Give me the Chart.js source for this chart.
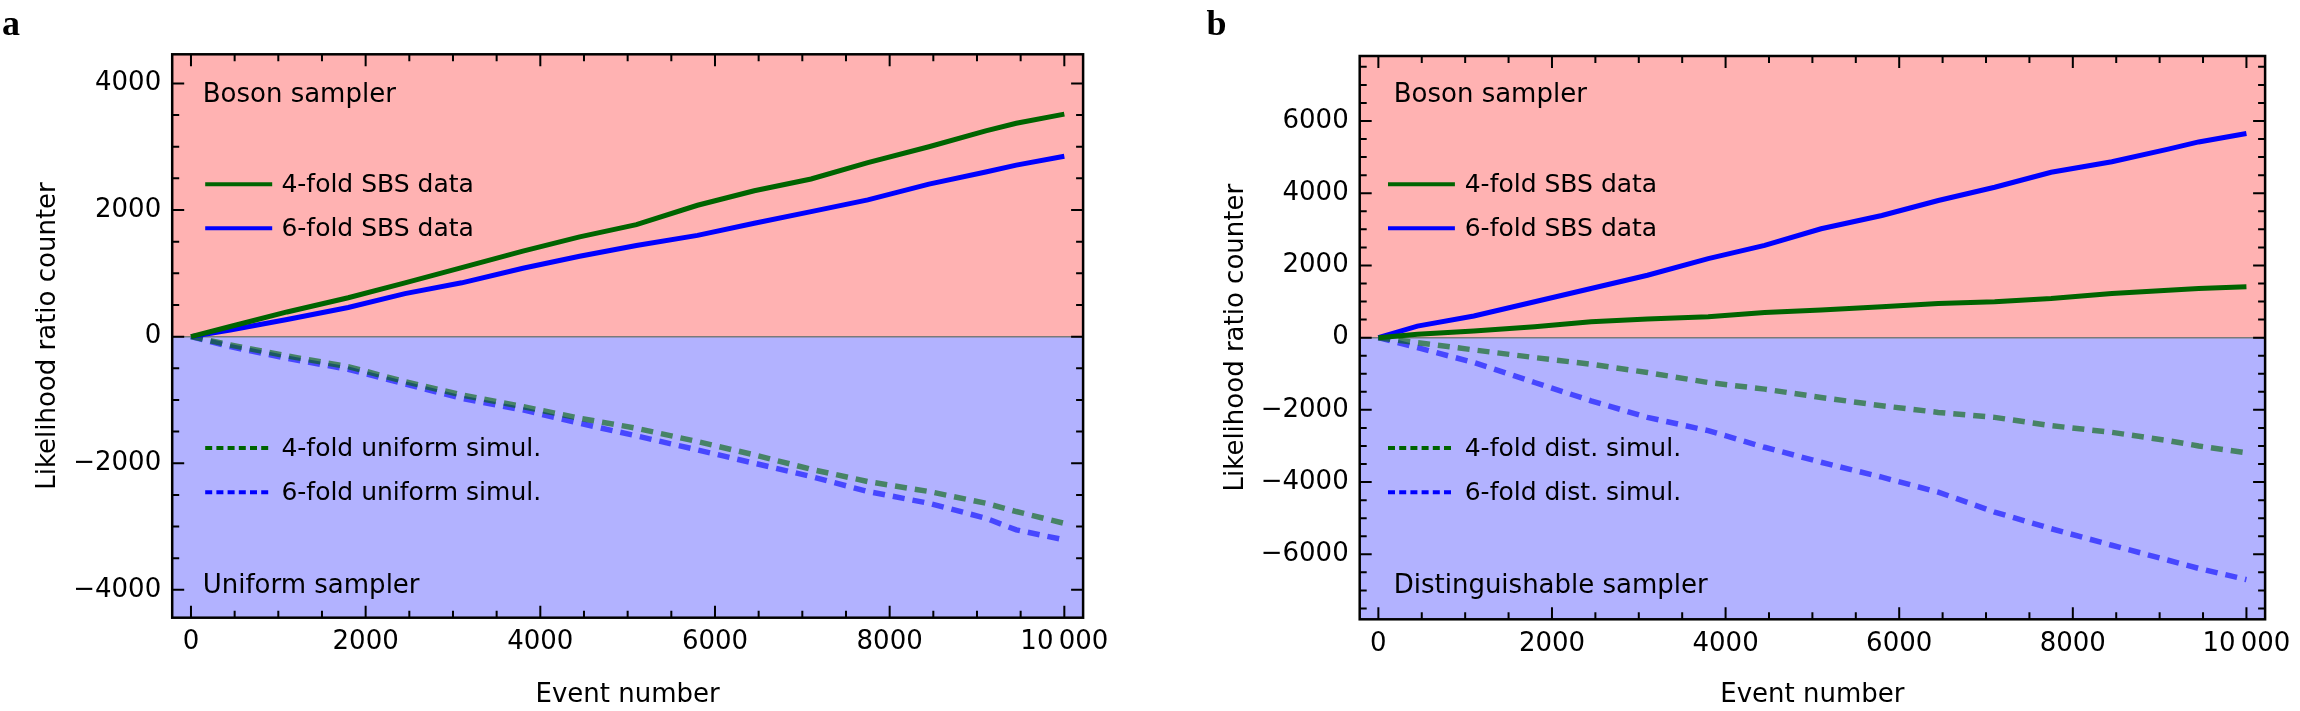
<!DOCTYPE html>
<html><head><meta charset="utf-8">
<script src="https://cdn.jsdelivr.net/npm/chart.js@4.4.1/dist/chart.umd.min.js"></script>
<style>
html,body{margin:0;padding:0;background:#fff;width:2300px;height:711px;overflow:hidden;}
.panel{position:absolute;top:0;width:1150px;height:711px;}
#pa{left:0} #pb{left:1150px}
canvas{display:block}
</style></head><body>
<div class="panel" id="pa"><canvas id="ca" width="1150" height="711"></canvas></div>
<div class="panel" id="pb"><canvas id="cb" width="1150" height="711"></canvas></div>
<script>
// ---------- data ----------
const events = [0,450,1100,1800,2450,3100,3800,4450,5100,5800,6450,7100,7750,8450,9100,9450,10000];

// panel a
const aSbs4 = [0,160,390,615,850,1090,1350,1575,1770,2075,2305,2490,2750,3000,3250,3370,3515];
const aSbs6 = [0,105,270,460,680,850,1080,1270,1440,1600,1790,1975,2160,2410,2600,2710,2850];
const aUni4 = [0,-132,-305,-474,-711,-921,-1105,-1289,-1447,-1658,-1868,-2095,-2289,-2447,-2632,-2763,-2950];
const aUni6 = [0,-158,-342,-516,-747,-974,-1158,-1368,-1568,-1789,-2000,-2210,-2447,-2632,-2868,-3053,-3210];

// panel b
const bSbs4 = [0,92,184,304,441,515,579,699,763,856,948,994,1086,1224,1316,1360,1410];
const bSbs6 = [0,320,600,993,1360,1728,2188,2556,3015,3383,3797,4165,4579,4870,5222,5420,5656];
const bDist4 = [0,-138,-340,-552,-736,-966,-1242,-1426,-1656,-1886,-2070,-2208,-2438,-2622,-2852,-3000,-3190];
const bDist6 = [0,-276,-690,-1242,-1748,-2208,-2576,-3036,-3450,-3864,-4278,-4830,-5290,-5750,-6164,-6390,-6700];

// ticks
const xTickValues = [0,2000,4000,6000,8000,10000];
const xTickLabels = ['0','2000','4000','6000','8000','10\u2009000'];
const aYTickValues = [-4000,-2000,0,2000,4000];
const aYTickLabels = ['\u22124000','\u22122000','0','2000','4000'];
const bYTickValues = [-6000,-4000,-2000,0,2000,4000,6000];
const bYTickLabels = ['\u22126000','\u22124000','\u22122000','0','2000','4000','6000'];

// labels
const aSeriesNames = ['4-fold SBS data','6-fold SBS data','4-fold uniform simul.','6-fold uniform simul.'];
const bSeriesNames = ['4-fold SBS data','6-fold SBS data','4-fold dist. simul.','6-fold dist. simul.'];

// ---------- style ----------
const FONT = '"DejaVu Sans", sans-serif';
const PINK = 'rgb(255,178,178)';
const LBLUE = 'rgb(178,178,255)';
const GREEN = 'rgb(0,100,0)';
const BLUE = 'rgb(0,0,255)';
const GREEN_T = 'rgba(0,100,0,0.6)';
const BLUE_T = 'rgba(0,0,255,0.6)';

const pts = arr => events.map((e,i)=>({x:e, y:arr[i]}));

const panelPlugin = {
  id:'panel',
  beforeDatasetsDraw(chart, args, o){
    const {ctx, chartArea:ca, scales:{y}} = chart;
    const y0 = y.getPixelForValue(0);
    ctx.save();
    ctx.fillStyle = PINK; ctx.fillRect(ca.left, ca.top, ca.right-ca.left, y0-ca.top);
    ctx.fillStyle = LBLUE; ctx.fillRect(ca.left, y0, ca.right-ca.left, ca.bottom-y0);
    ctx.strokeStyle = '#7a7a7a'; ctx.lineWidth = 1.5;
    ctx.beginPath(); ctx.moveTo(ca.left, y0); ctx.lineTo(ca.right, y0); ctx.stroke();
    ctx.restore();
  },
  afterDatasetsDraw(chart, args, o){
    const {ctx, chartArea:ca, scales:{x,y}} = chart;
    ctx.save();
    ctx.strokeStyle = '#000'; ctx.lineWidth = 2.5;
    ctx.strokeRect(ca.left, ca.top, ca.right-ca.left, ca.bottom-ca.top);
    ctx.lineWidth = 2;
    ctx.beginPath();
    for (let v=0; v<=10000; v+=500){
      const px = x.getPixelForValue(v), L = v%2000===0?12:7;
      ctx.moveTo(px, ca.bottom); ctx.lineTo(px, ca.bottom-L);
      ctx.moveTo(px, ca.top); ctx.lineTo(px, ca.top+L);
    }
    for (let v=Math.ceil(y.min/500)*500; v<=y.max; v+=500){
      const py = y.getPixelForValue(v), L = v%2000===0?12:7;
      ctx.moveTo(ca.left, py); ctx.lineTo(ca.left+L, py);
      ctx.moveTo(ca.right, py); ctx.lineTo(ca.right-L, py);
    }
    ctx.stroke();
    // region labels
    ctx.fillStyle = '#000'; ctx.textAlign = 'left'; ctx.textBaseline = 'alphabetic';
    ctx.font = '26px ' + FONT;
    ctx.fillText(o.topLabel, ca.left + o.textDx, 102);
    ctx.fillText(o.bottomLabel, ca.left + o.textDx, 593);
    // legend
    chart.data.datasets.forEach((ds,i)=>{
      const ly = o.legendY[i];
      ctx.strokeStyle = ds.legendColor; ctx.lineWidth = 4;
      ctx.setLineDash(ds.borderDash && ds.borderDash.length ? [7,4.2] : []);
      ctx.beginPath(); ctx.moveTo(ca.left + o.lineX0, ly); ctx.lineTo(ca.left + o.lineX1, ly); ctx.stroke();
      ctx.setLineDash([]);
      ctx.font = '25px ' + FONT; ctx.fillStyle = '#000';
      ctx.fillText(ds.label, ca.left + o.legTextX, ly + 7.5);
    });
    // panel letter
    ctx.font = 'bold 36px "Liberation Serif", serif';
    ctx.fillText(o.letter, o.letterX, 35);
    ctx.restore();
  }
};

function makeChart(id, names, series, yTickValues, yTickLabels, cfg){
  const styles = [
    {borderColor:GREEN, borderWidth:5, borderDash:[], legendColor:GREEN},
    {borderColor:BLUE, borderWidth:5, borderDash:[], legendColor:BLUE},
    {borderColor:GREEN_T, borderWidth:5.5, borderDash:[12,8], legendColor:GREEN},
    {borderColor:BLUE_T, borderWidth:5.5, borderDash:[12,8], legendColor:BLUE}
  ];
  const datasets = series.map((s,i)=>Object.assign({label:names[i], data:pts(s), pointRadius:0, tension:0, fill:false}, styles[i]));
  return new Chart(document.getElementById(id), {
    type:'line',
    data:{datasets},
    options:{
      responsive:false, animation:false, events:[],
      layout:{padding:{top:cfg.top, right:cfg.right, left:0, bottom:0}},
      plugins:{legend:{display:false}, tooltip:{enabled:false}, panel:cfg.panel},
      scales:{
        x:{type:'linear', position:'bottom', min:-215, max:10215,
          afterBuildTicks:s=>{s.ticks = xTickValues.map(v=>({value:v}));},
          afterFit:s=>{s.height = cfg.bottomH;},
          grid:{display:false, drawTicks:false}, border:{display:false},
          ticks:{callback:(v,i)=>xTickLabels[i], font:{family:FONT, size:26}, color:'#000', padding:9, maxRotation:0, autoSkip:false},
          title:{display:true, text:'Event number', font:{family:FONT, size:26}, color:'#000', padding:{top:8, bottom:0}}
        },
        y:{type:'linear', position:'left', min:cfg.ymin, max:cfg.ymax,
          afterBuildTicks:s=>{s.ticks = yTickValues.map(v=>({value:v}));},
          afterFit:s=>{s.width = cfg.leftW;},
          grid:{display:false, drawTicks:false}, border:{display:false},
          ticks:{callback:(v,i)=>yTickLabels[i], font:{family:FONT, size:26}, color:'#000', padding:11, autoSkip:false},
          title:{display:true, text:'Likelihood ratio counter', font:{family:FONT, size:26}, color:'#000', padding:{top:cfg.yTitlePad, bottom:0}}
        }
      }
    },
    plugins:[panelPlugin]
  });
}

makeChart('ca', aSeriesNames, [aSbs4, aSbs6, aUni4, aUni6], aYTickValues, aYTickLabels, {
  top:54.3, right:66.9, bottomH:93.3, leftW:172.2, ymin:-4440, ymax:4460, yTitlePad:33,
  panel:{topLabel:'Boson sampler', bottomLabel:'Uniform sampler', textDx:30.5,
    lineX0:33, lineX1:100, legTextX:109.2, legendY:[184.3,228.3,448,492.3], letter:'a', letterX:2}
});
makeChart('cb', bSeriesNames, [bSbs4, bSbs6, bDist4, bDist6], bYTickValues, bYTickLabels, {
  top:56, right:29.8, bottomH:91.7, leftW:209.7, ymin:-7800, ymax:7800, yTitlePad:71,
  panel:{topLabel:'Boson sampler', bottomLabel:'Distinguishable sampler', textDx:34,
    lineX0:28.3, lineX1:95.2, legTextX:105, legendY:[184.3,228.3,448,492.3], letter:'b', letterX:56.6}
});
</script>
</body></html>
